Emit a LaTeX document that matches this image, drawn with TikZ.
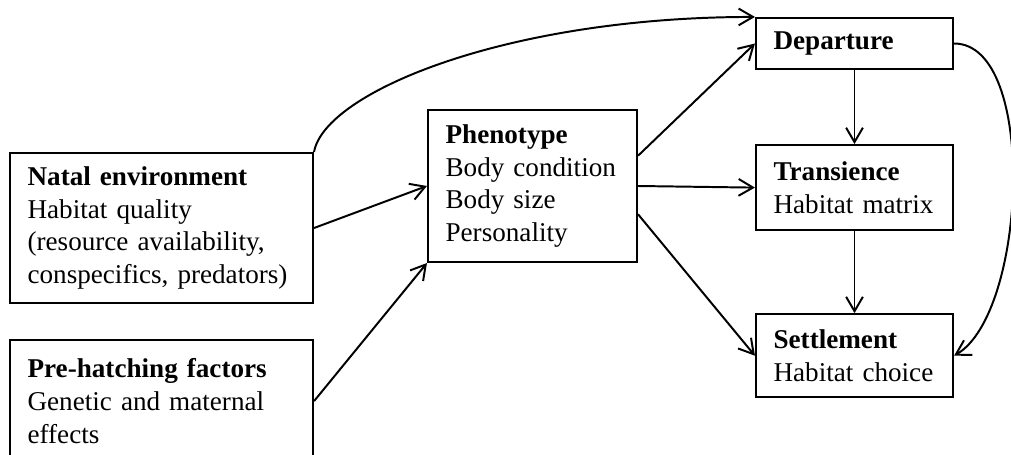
\documentclass[tikz,border=0pt]{standalone}
\usepackage{fontspec}
\setmainfont{Liberation Serif}
\usetikzlibrary{arrows.meta,positioning}

\begin{document}
\begin{tikzpicture}[
    node distance=1.5cm,
    box/.style={rectangle, draw=black, line width=1.5pt, inner xsep=0.44cm, align=left, font=\fontsize{19.3}{23.4}\selectfont},
    flow/.style={->, line width=1.4pt, >={Straight Barb[length=3.6mm,width=4.2mm]}}
]
\useasboundingbox (0,0) rectangle (25.275,-11.375);

% Left column
\node[box, text width=6.695cm, minimum height=3.75cm] (natal) at (4.0375,-5.7)
    {\textbf{Natal environment}\\Habitat quality\\(resource availability,\\conspecifics, predators)};
\node[box, text width=6.695cm, minimum height=3.05cm, below=0.875cm of natal] (prehatch)
    {\textbf{Pre-hatching factors}\\Genetic and maternal\\effects};

% Phenotype
\node[box, text width=4.345cm, minimum height=3.8cm] (phenotype) at (13.3125,-4.65)
    {\textbf{Phenotype}\\Body condition\\Body size\\Personality};

% Dispersal stages
\node[box, text width=4.045cm, minimum height=1.275cm] (departure) at (21.3625,-1.0875) {\textbf{Departure}};
\node[box, text width=4.045cm, minimum height=2.125cm, below=1.85cm of departure] (transience) {\textbf{Transience}\\Habitat matrix};
\node[box, text width=4.045cm, minimum height=2.075cm, below=2.05cm of transience] (settlement) {\textbf{Settlement}\\Habitat choice};

% Arrows
\draw[flow] (natal.east) -- (phenotype.west);
\draw[flow] (prehatch.east) -- (phenotype.south west);
\draw[flow] (natal.north east) .. controls +(80:1.5cm) and +(180:6.25cm) .. (departure.north west);
\draw[flow] (phenotype.16) -- (departure.west);
\draw[flow] (phenotype.east) -- (transience.west);
\draw[flow] (phenotype.-15) -- (settlement.west);
\draw[flow] (departure) -- (transience);
\draw[flow] (transience) -- (settlement);
\draw[flow] (departure.east) .. controls +(0:2.1cm) and +(30:2.1cm) .. (settlement.east);

\end{tikzpicture}
\end{document}
